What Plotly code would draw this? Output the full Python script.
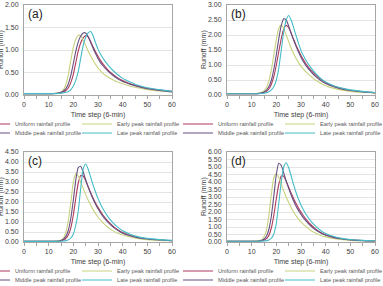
import plotly.graph_objects as go

W, H = 383, 286

# time steps (6-min)
T = [0, 5, 10, 12, 14, 15, 16, 17, 18, 19, 20, 21, 22, 23, 24, 25, 26, 27, 28, 29,
     30, 31, 32, 34, 36, 38, 40, 43, 46, 50, 55, 60]

SERIES = ["Uniform rainfall profile", "Early peak rainfall profile",
          "Middle peak rainfall profile", "Late peak rainfall profile"]
PANELS = ["(a)", "(b)", "(c)", "(d)"]
YMAX = [2.0, 3.0, 4.5, 6.0]
XTICKS = [0, 10, 20, 30, 40, 50, 60]

# panel (a)
a_uniform = [.03, .03, .03, .03, .04, .05, .07, .10, .16, .28, .46, .72, .98, 1.16, 1.27, 1.32, 1.29, 1.19, 1.07, .96,
             .86, .77, .69, .56, .46, .38, .32, .25, .20, .15, .11, .08]
a_early = [.03, .03, .03, .035, .05, .07, .12, .24, .46, .78, 1.06, 1.24, 1.33, 1.31, 1.22, 1.10, .98, .87, .77, .68,
           .60, .54, .48, .40, .34, .29, .25, .20, .16, .12, .09, .07]
a_middle = [.03, .03, .03, .035, .045, .06, .09, .14, .25, .44, .70, .97, 1.18, 1.31, 1.38, 1.38, 1.30, 1.17, 1.04, .92,
            .81, .72, .65, .53, .44, .36, .30, .24, .19, .14, .10, .07]
a_late = [.03, .03, .03, .03, .035, .04, .05, .06, .08, .12, .20, .33, .52, .82, 1.10, 1.28, 1.38, 1.41, 1.32, 1.16,
          1.02, .91, .82, .67, .55, .45, .37, .29, .22, .16, .12, .08]

# panel (b)
b_uniform = [.04, .04, .04, .045, .06, .08, .12, .20, .36, .62, 1.00, 1.45, 1.88, 2.20, 2.32, 2.24, 2.06, 1.86, 1.66, 1.48,
             1.32, 1.17, 1.04, .83, .66, .52, .41, .30, .23, .16, .11, .08]
b_early = [.04, .04, .04, .05, .09, .14, .25, .48, .85, 1.35, 1.85, 2.22, 2.33, 2.22, 2.00, 1.78, 1.56, 1.38, 1.22, 1.08,
           .96, .86, .77, .62, .49, .39, .31, .23, .17, .12, .09, .07]
b_middle = [.04, .04, .04, .045, .07, .10, .16, .28, .50, .86, 1.35, 1.88, 2.32, 2.54, 2.50, 2.30, 2.06, 1.83, 1.62, 1.43,
            1.26, 1.11, .98, .78, .61, .48, .38, .28, .21, .15, .10, .07]
b_late = [.04, .04, .04, .04, .05, .06, .08, .11, .17, .28, .50, .90, 1.50, 2.10, 2.50, 2.65, 2.50, 2.25, 1.98, 1.72,
          1.48, 1.31, 1.16, .91, .71, .55, .43, .32, .24, .17, .12, .08]

# panel (c)
c_uniform = [.03, .03, .03, .035, .045, .06, .10, .18, .36, .72, 1.35, 2.20, 2.95, 3.33, 3.30, 3.06, 2.76, 2.47, 2.20, 1.95,
             1.73, 1.53, 1.35, 1.05, .81, .62, .47, .33, .23, .15, .10, .07]
c_early = [.03, .03, .03, .035, .06, .10, .20, .50, 1.10, 2.00, 3.00, 3.42, 3.30, 3.00, 2.68, 2.38, 2.10, 1.85, 1.62, 1.42,
           1.25, 1.10, .96, .74, .57, .44, .35, .25, .18, .12, .08, .06]
c_middle = [.03, .03, .03, .035, .05, .08, .14, .28, .60, 1.20, 2.10, 3.10, 3.72, 3.78, 3.50, 3.12, 2.76, 2.44, 2.15, 1.89,
            1.66, 1.46, 1.28, .99, .76, .58, .44, .31, .22, .15, .10, .07]
c_late = [.03, .03, .03, .03, .035, .04, .05, .07, .11, .20, .40, .85, 1.55, 2.70, 3.65, 3.90, 3.65, 3.25, 2.86, 2.50,
          2.18, 1.90, 1.66, 1.27, .97, .74, .56, .39, .27, .18, .12, .08]

# panel (d)
d_uniform = [.05, .05, .05, .05, .08, .12, .22, .45, .95, 1.80, 2.90, 3.85, 4.40, 4.38, 4.05, 3.65, 3.26, 2.90, 2.56, 2.26,
             2.00, 1.75, 1.53, 1.15, .86, .64, .48, .33, .23, .15, .10, .07]
d_early = [.05, .05, .05, .06, .15, .35, .80, 1.80, 3.20, 4.30, 4.55, 4.30, 3.85, 3.40, 3.00, 2.64, 2.30, 2.00, 1.74, 1.53,
           1.34, 1.17, 1.02, .77, .58, .44, .34, .24, .17, .11, .08, .06]
d_middle = [.05, .05, .05, .055, .10, .18, .38, .85, 1.75, 3.10, 4.50, 5.25, 5.10, 4.60, 4.06, 3.58, 3.13, 2.74, 2.39, 2.09,
            1.84, 1.61, 1.41, 1.06, .80, .60, .45, .31, .22, .14, .09, .065]
d_late = [.05, .05, .05, .05, .06, .07, .09, .14, .25, .55, 1.25, 2.60, 4.00, 5.00, 5.28, 4.95, 4.40, 3.82, 3.30, 2.85,
          2.46, 2.13, 1.85, 1.39, 1.04, .77, .57, .38, .26, .17, .11, .08]

DATA = [
    [a_uniform, a_early, a_middle, a_late],
    [b_uniform, b_early, b_middle, b_late],
    [c_uniform, c_early, c_middle, c_late],
    [d_uniform, d_early, d_middle, d_late],
]

COLORS = ["#ad3a5c", "#c8d27e", "#66507e", "#45bcc8"]
FONT = "Arial, Liberation Sans, sans-serif"
AXC = "#a6a6a6"
TXT = "#404040"


def px(x):
    return x / W


def py(y):
    return 1 - y / H


fig = go.Figure()
layout = dict(width=W, height=H, margin=dict(l=0, r=0, t=0, b=0, autoexpand=False),
              paper_bgcolor="white", plot_bgcolor="white", font=dict(family=FONT, color=TXT),
              annotations=[])

# panel geometry (pixels)
geo = [
    (24, 172, 5, 95),
    (227, 375, 5, 95),
    (24, 172, 152, 242),
    (227, 375, 152, 242),
]
# legend text starts (left col, right col) and rows, relative to panel (a)
LEG_COLS = [15, 117]
LEG_ROWS = [124, 133]
OFFS = [(0, 0), (203, 0), (0, 147), (203, 147)]

for p in range(4):
    x0, x1, y0, y1 = geo[p]
    sfx = "" if p == 0 else str(p + 1)
    xa, ya = "x" + sfx, "y" + sfx
    for s in range(4):
        lid = p * 4 + s + 1
        lname = "legend" if lid == 1 else "legend%d" % lid
        fig.add_trace(go.Scatter(
            x=T, y=DATA[p][s], mode="lines", name=SERIES[s],
            line=dict(color=COLORS[s], width=1.1, shape="spline", smoothing=0.6),
            xaxis=xa, yaxis=ya, legend=lname, showlegend=True, hoverinfo="skip"))
        col = 0 if s in (0, 2) else 1
        row = 0 if s in (0, 1) else 1
        tx = LEG_COLS[col] + OFFS[p][0]
        ty = LEG_ROWS[row] + OFFS[p][1]
        layout[lname] = dict(x=px(tx - 40), y=py(ty), xanchor="left", yanchor="middle",
                             bgcolor="rgba(0,0,0,0)", borderwidth=0,
                             font=dict(size=5.7, family=FONT, color="#595959"))
    layout["xaxis" + sfx] = dict(
        domain=[px(x0), px(x1)], range=[0, 60], tickvals=XTICKS, anchor=ya,
        showline=True, mirror=True, linecolor=AXC, linewidth=1,
        ticks="outside", ticklen=3, tickcolor=AXC,
        minor=dict(dtick=5, ticks="outside", ticklen=3, tickcolor=AXC),
        showgrid=False, zeroline=False,
        tickfont=dict(size=7, color=TXT),
        title=dict(text="Time step (6-min)", font=dict(size=7, color=TXT), standoff=4))
    layout["yaxis" + sfx] = dict(
        domain=[py(y1), py(y0)], range=[0, YMAX[p]], dtick=0.5, tickformat=".2f", anchor=xa,
        showline=True, mirror=True, linecolor=AXC, linewidth=1,
        ticks="outside", ticklen=3, tickcolor="rgba(0,0,0,0)",
        showgrid=True, gridcolor="#e4e4e4", gridwidth=1, zeroline=False,
        tickfont=dict(size=7, color=TXT))
    # y-axis title (left of tick labels)
    layout["annotations"].append(dict(
        text="Runoff (mm)", x=px(x0 - 23), y=py((y0 + y1) / 2), xref="paper", yref="paper",
        xanchor="center", yanchor="middle", textangle=-90, showarrow=False,
        font=dict(size=7, color=TXT, family=FONT)))
    layout["annotations"].append(dict(
        text=PANELS[p], x=px(x0 + 2), y=py(y0 + 9), xref="paper", yref="paper",
        xanchor="left", yanchor="middle", showarrow=False,
        font=dict(size=12, color="#222222", family=FONT)))

fig.update_layout(**layout)
fig.write_html("out.html")
